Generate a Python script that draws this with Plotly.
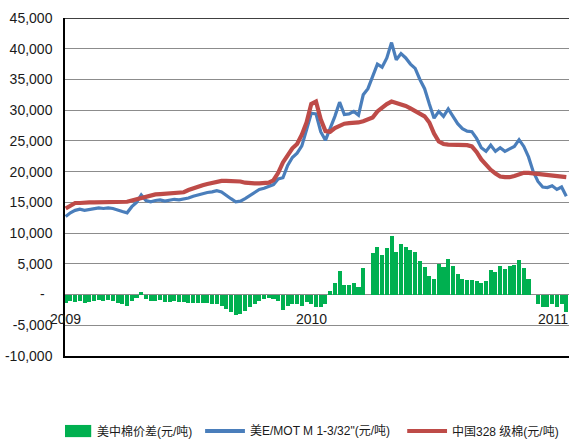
import pandas as pd
import plotly.graph_objects as go

# Weekly observations, first Friday of 2009 onward
dates = pd.date_range("2009-01-02", periods=107, freq="7D")

# 美 E/MOT M 1-3/32" (元/吨)
us_price = [
    12700, 13300, 13700, 13900, 13700, 13800, 14000, 14100, 14000, 14100,
    14000, 13700, 13500, 13300, 14300, 15000, 16200, 15300, 15100, 15300,
    15400, 15200, 15300, 15500, 15400, 15500, 15700, 16000, 16200, 16500,
    16600, 16700, 16900, 16700, 16100, 15600, 15100, 15200, 15600, 16100,
    16600, 17100, 17300, 17600, 17900, 18800, 19000, 21000, 22300, 23000,
    24200, 26800, 29500, 29400, 26500, 25100, 27000, 29000, 31300, 29300,
    29400, 29800, 29200, 32500, 33500, 35500, 37500, 37000, 38500, 41000,
    38200, 39200, 38500, 37500, 36800, 35000, 33500, 31000, 28700, 29800,
    29000, 30200, 29000, 27800, 27000, 26600, 26500, 25400, 23900, 23300,
    24300, 23300, 23900, 23300, 23700, 24100, 25200, 24100, 22400, 20000,
    18400, 17500, 17400, 17700, 17100, 17500, 16000,
]

# 中国328 级棉 (元/吨)
cn_price = [
    14000, 14400, 14900, 14900, 15000, 15000, 15000, 15000, 15000, 15000,
    15000, 15050, 15050, 15100, 15300, 15500, 15800, 16000, 16200, 16300,
    16350, 16400, 16450, 16500, 16550, 16650, 17000, 17300, 17500, 17800,
    18000, 18200, 18400, 18500, 18500, 18500, 18500, 18400, 18200, 18100,
    18100, 18100, 18100, 18200, 18600, 19800, 21500, 22800, 23800, 24500,
    26000, 28000, 31000, 31400, 28500, 26600, 26500, 27100, 27500, 27800,
    27900, 27900, 28000, 28200, 28500, 28800, 29800, 30500, 31000, 31400,
    31200, 30900, 30700, 30300, 29900, 29500, 29000, 28000, 26200, 24900,
    24500, 24400, 24400, 24400, 24400, 24300, 24100, 23200, 22000, 21100,
    20300, 19700, 19200, 19100, 19100, 19300, 19600, 19800, 19800, 19700,
    19600, 19500, 19400, 19300, 19200, 19100, 19100,
]

# 美中棉价差 (元/吨)
spread = [
    -1300, -1100, -1200, -1000, -1300, -1200, -1000, -900, -1000, -900,
    -1000, -1350, -1550, -1800, -1000, -500, 400, -700, -1100, -1000,
    -950, -1200, -1150, -1000, -1150, -1150, -1300, -1300, -1300, -1300,
    -1400, -1500, -1500, -1800, -2400, -2900, -3400, -3200, -2600, -2000,
    -1500, -1000, -800, -600, -700, -1000, -2500, -1800, -1500, -1500,
    -1800, -1200, -1500, -2000, -2000, -1500, 500, 1900, 3800, 1500,
    1500, 1900, 1200, 4300, 0, 6700, 7700, 6500, 7500, 9600,
    7000, 8300, 7800, 7200, 6900, 5500, 4500, 3000, 2500, 4900,
    4500, 5800, 4600, 3400, 2600, 2300, 2400, 2200, 1900, 2200,
    4000, 3600, 4700, 4200, 4600, 4800, 5600, 4300, 2600, 0,
    -1500, -2000, -2000, -1600, -2100, -1600, -2800,
]

y_ticks = [-10000, -5000, 0, 5000, 10000, 15000, 20000, 25000, 30000, 35000, 40000, 45000]
y_tick_text = ["-10,000", "-5,000", "-\u00a0\u00a0", "5,000", "10,000", "15,000",
               "20,000", "25,000", "30,000", "35,000", "40,000", "45,000"]
year_labels = ["2009", "2010", "2011"]
year_dates = ["2009-01-01", "2010-01-01", "2011-01-01"]
year_shift = [0, 0, -5]

legend_names = ["美中棉价差(元/吨)", "美E/MOT M 1-3/32\"(元/吨)", "中国328 级棉(元/吨)"]

GREEN = "#00B050"
BLUE = "#4A7EBB"
RED = "#BE4B48"
NUM_FONT = "Liberation Sans, Arial, sans-serif"
CJK_FONT = "Liberation Sans, Noto Sans CJK SC, sans-serif"
TEXT_COLOR = "#1a1a1a"

fig = go.Figure()
fig.add_trace(go.Bar(
    x=dates, y=spread, width=6 * 86400000,
    marker=dict(color=GREEN, line=dict(width=0)),
    name=legend_names[0], showlegend=False,
))
fig.add_trace(go.Scatter(
    x=dates, y=us_price, mode="lines",
    line=dict(color=BLUE, width=3.2),
    name=legend_names[1], showlegend=False,
))
fig.add_trace(go.Scatter(
    x=dates, y=cn_price, mode="lines",
    line=dict(color=RED, width=4.2),
    name=legend_names[2], showlegend=False,
))

fig.update_xaxes(
    type="date", range=["2009-01-01", "2011-01-18"],
    showticklabels=False, showgrid=False, ticks="",
    showline=True, linecolor="black", linewidth=1.5,
)
fig.update_yaxes(
    range=[-10000, 45000], tickvals=y_ticks, ticktext=y_tick_text,
    showgrid=True, gridcolor="#8C8C8C", gridwidth=1.2,
    zeroline=False, ticks="", ticklabelstandoff=8,
    showline=True, linecolor="black", linewidth=1.5,
    tickfont=dict(family=NUM_FONT, size=14, color=TEXT_COLOR),
)

# top border of the plot area
fig.add_shape(type="line", xref="paper", yref="y", x0=0, x1=1, y0=45000, y1=45000,
              line=dict(color="black", width=1.5))

# year labels sitting just under the zero line
for lbl, d, sh in zip(year_labels, year_dates, year_shift):
    fig.add_annotation(x=d, y=0, xref="x", yref="y", text=lbl, showarrow=False,
                       xanchor="center", yanchor="middle", yshift=-24, xshift=sh,
                       font=dict(family=NUM_FONT, size=14, color=TEXT_COLOR))

# legend drawn below the plot
LEG_Y = -0.222
fig.add_shape(type="rect", xref="paper", yref="paper", x0=0.0, x1=0.052,
              y0=-0.204, y1=-0.240, fillcolor=GREEN, line=dict(width=0))
fig.add_shape(type="line", xref="paper", yref="paper", x0=0.278, x1=0.357,
              y0=LEG_Y, y1=LEG_Y, line=dict(color=BLUE, width=4))
fig.add_shape(type="line", xref="paper", yref="paper", x0=0.679, x1=0.758,
              y0=LEG_Y, y1=LEG_Y, line=dict(color=RED, width=4))
for txt, xp in zip(legend_names, [0.0595, 0.363, 0.764]):
    fig.add_annotation(x=xp, y=LEG_Y, xref="paper", yref="paper", text=txt,
                       showarrow=False, xanchor="left", yanchor="middle",
                       font=dict(family=CJK_FONT, size=12, color=TEXT_COLOR))

fig.update_layout(
    width=569, height=441,
    margin=dict(l=65, r=0, t=18, b=85),
    paper_bgcolor="white", plot_bgcolor="white",
    bargap=0,
)

fig.write_html("out.html")
